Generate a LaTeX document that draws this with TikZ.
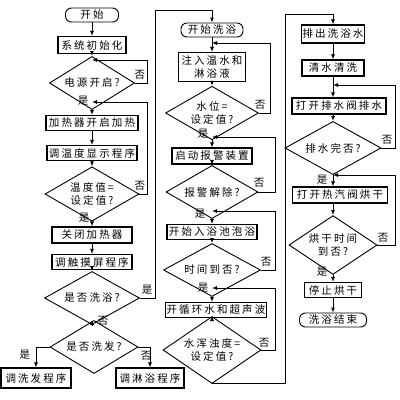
\documentclass[tikz,border=0pt]{standalone}
\usepackage{fontspec}
\newfontfamily\cjk[LetterSpace=20]{Noto Sans CJK SC}
\usetikzlibrary{shapes.geometric,arrows.meta}

\begin{document}
\begin{tikzpicture}[x=1pt, y=-1pt, line width=0.9pt,
    every node/.style={font=\cjk\fontsize{10.5}{13}\selectfont},
    box/.style={draw, line width=1.1pt, inner sep=0pt, minimum height=15pt, align=center},
    term/.style={draw, rounded corners=6pt, inner sep=0pt, minimum height=14pt},
    test/.style={draw, diamond, inner sep=-3pt, align=center},
    lbl/.style={inner sep=0pt},
    flow/.style={-{Latex[length=5pt,width=4pt]}}]
	\useasboundingbox (0,0) rectangle (400,400);
	\fill[white] (0,0) rectangle (400,400);
	% rails of the loops
	\coordinate (r1) at (147,0);
	\coordinate (r2a) at (270,0);
	\coordinate (r2) at (275,0);
	\coordinate (r3) at (395,0);
		%\begin{scope}{heating}
			\node[term, minimum width=53pt] (start) at (92,15) {开始};
			\node[box, minimum width=68pt, minimum height=17pt] (init) at (92,45) {系统初始化};
			\node[test, minimum width=85pt, minimum height=27pt] (power) at (92,83) {电源开启?};
			\node[box, minimum width=92pt] (heaton) at (92,123) {加热器开启加热};
			\node[box, minimum width=90pt] (tempshow) at (92,153) {调温度显示程序};
			\node[test, minimum width=94pt, minimum height=37pt] (tempok) at (92,194) {温度值=\\设定值?};
			\node[box, minimum width=80pt, minimum height=16pt] (heatoff) at (92,235) {关闭加热器};
			\node[box, minimum width=80pt] (touch) at (92,262) {调触摸屏程序};
			\node[test, minimum width=95pt, minimum height=34pt] (bath) at (92,298) {是否洗浴?};
			\node[test, minimum width=88pt, minimum height=30pt] (hair) at (94,347) {是否洗发?};
			\node[box, minimum width=70pt, minimum height=20pt] (hairprog) at (36,378) {调洗发程序};
			\node[box, minimum width=68pt, minimum height=20pt] (showerprog) at (150,378) {调淋浴程序};
			\coordinate (j1) at (92,60);
			\coordinate (j2) at (92,102);
		%\end{scope}
		%\begin{scope}{bathing}
			\node[term, minimum width=62pt] (bathstart) at (212,30) {开始洗浴};
			\node[box, minimum width=67pt, minimum height=29pt] (fill) at (212,67) {注入温水和\\淋浴液};
			\node[test, minimum width=93pt, minimum height=33pt] (level) at (212,113) {水位=\\设定值?};
			\node[box, minimum width=80pt, minimum height=16pt] (alarm) at (212,156) {启动报警装置};
			\node[test, minimum width=92pt, minimum height=25pt] (alarmoff) at (212,192) {报警解除?};
			\node[box, minimum width=90pt] (soak) at (212,232) {开始入浴池泡浴};
			\node[test, minimum width=97pt, minimum height=30pt] (time) at (212,270) {时间到否?};
			\node[box, minimum width=101pt] (circ) at (216,310) {开循环水和超声波};
			\node[test, minimum width=98pt, minimum height=45pt] (turbid) at (212,350) {水浑浊度=\\设定值?};
			\coordinate (j3) at (212,43);
			\coordinate (j4) at (212,137);
			\coordinate (j5) at (212,211);
			\coordinate (j6) at (212,288);
			\coordinate (up1) at (155,10);
			\coordinate (dn1) at (285,383);
			\coordinate (up2) at (285,14);
		%\end{scope}
		%\begin{scope}{draining}
			\node[box, minimum width=63pt, minimum height=18pt] (drain) at (333,34) {排出洗浴水};
			\node[box, minimum width=62pt, minimum height=16pt] (rinse) at (333,68) {清水清洗};
			\node[box, minimum width=94pt, minimum height=16pt] (valve) at (339,106) {打开排水阀排水};
			\node[test, minimum width=96pt, minimum height=33pt] (drained) at (333,148) {排水完否?};
			\node[box, minimum width=95pt, minimum height=16pt] (dryon) at (340,195) {打开热汽阀烘干};
			\node[test, minimum width=88pt, minimum height=45pt] (drytime) at (333,245) {烘干时间\\到否?};
			\node[box, minimum width=57pt] (drystop) at (333,290) {停止烘干};
			\node[term, minimum width=67pt] (end) at (333,320) {洗浴结束};
			\coordinate (j7) at (333,85);
			\coordinate (j8) at (333,175);
		%\end{scope}
	% connectors
	\draw[flow] (start) -- (init);
	\draw[flow] (init) -- (power);
	\draw[flow] (power.east) -- (power.east -| r1) |- (j1);
	\draw[flow] (power) -- (heaton);
	\draw[flow] (heaton) -- (tempshow);
	\draw[flow] (tempshow) -- (tempok);
	\draw[flow] (tempok.east) -- (tempok.east -| r1) |- (j2);
	\draw[flow] (tempok) -- (heatoff);
	\draw[flow] (heatoff) -- (touch);
	\draw[flow] (touch) -- (bath);
	\draw[flow] (bath) -- (bath.south |- hair.north);
	\draw[flow] (hair.west) -| (hairprog.north);
	\draw[flow] (hair.east) -| (showerprog.north);
	\draw[flow] (bath.east) -| (up1) -| (bathstart.north);
	\draw[flow] (bathstart) -- (fill);
	\draw[flow] (fill) -- (level);
	\draw[flow] (level.east) -- (level.east -| r2a) |- (j3);
	\draw[flow] (level) -- (alarm);
	\draw[flow] (alarm) -- (alarmoff);
	\draw[flow] (alarmoff.east) -- (alarmoff.east -| r2) |- (j4);
	\draw[flow] (alarmoff) -- (soak);
	\draw[flow] (soak) -- (time);
	\draw[flow] (time.east) -- (time.east -| r2) |- (j5);
	\draw[flow] (time) -- (time.south |- circ.north);
	\draw[flow] (circ.south -| turbid.north) -- (turbid);
	\draw[flow] (turbid.east) -- (turbid.east -| r2) |- (j6);
	\draw[flow] (turbid.south) |- (dn1) -- (up2) -| (drain.north);
	\draw[flow] (drain) -- (rinse);
	\draw[flow] (rinse) -- (rinse.south |- valve.north);
	\draw[flow] (valve.south -| drained.north) -- (drained);
	\draw[flow] (drained.east) -- (drained.east -| r3) |- (j7);
	\draw[flow] (drained) -- (drained.south |- dryon.north);
	\draw[flow] (dryon.south -| drytime.north) -- (drytime);
	\draw[flow] (drytime.east) -- (drytime.east -| r3) |- (j8);
	\draw[flow] (drytime) -- (drystop);
	\draw[flow] (drystop) -- (end);
	% yes / no
	\node[lbl] (pno) at (140,75) {否};
	\node[lbl] (pyes) at (83,101) {是};
	\node[lbl] (tno) at (140,186) {否};
	\node[lbl] (tyes) at (84,218) {是};
	\node[lbl] (byes) at (147,290) {是};
	\node[lbl] (bno) at (103,321) {否};
	\node[lbl] (hyes) at (25,355) {是};
	\node[lbl] (hno) at (146,356) {否};
	\node[lbl] (lno) at (260,105) {否};
	\node[lbl] (lyes) at (203,134) {是};
	\node[lbl] (ano) at (259,183) {否};
	\node[lbl] (ayes) at (200,214) {是};
	\node[lbl] (tmno) at (266,262) {否};
	\node[lbl] (tmyes) at (203,288) {是};
	\node[lbl] (wno) at (264,343) {否};
	\node[lbl] (dno) at (387,140) {否};
	\node[lbl] (dyes) at (322,180) {是};
	\node[lbl] (yno) at (383,238) {否};
	\node[lbl] (yyes) at (322,272) {是};
\end{tikzpicture}
\end{document}
